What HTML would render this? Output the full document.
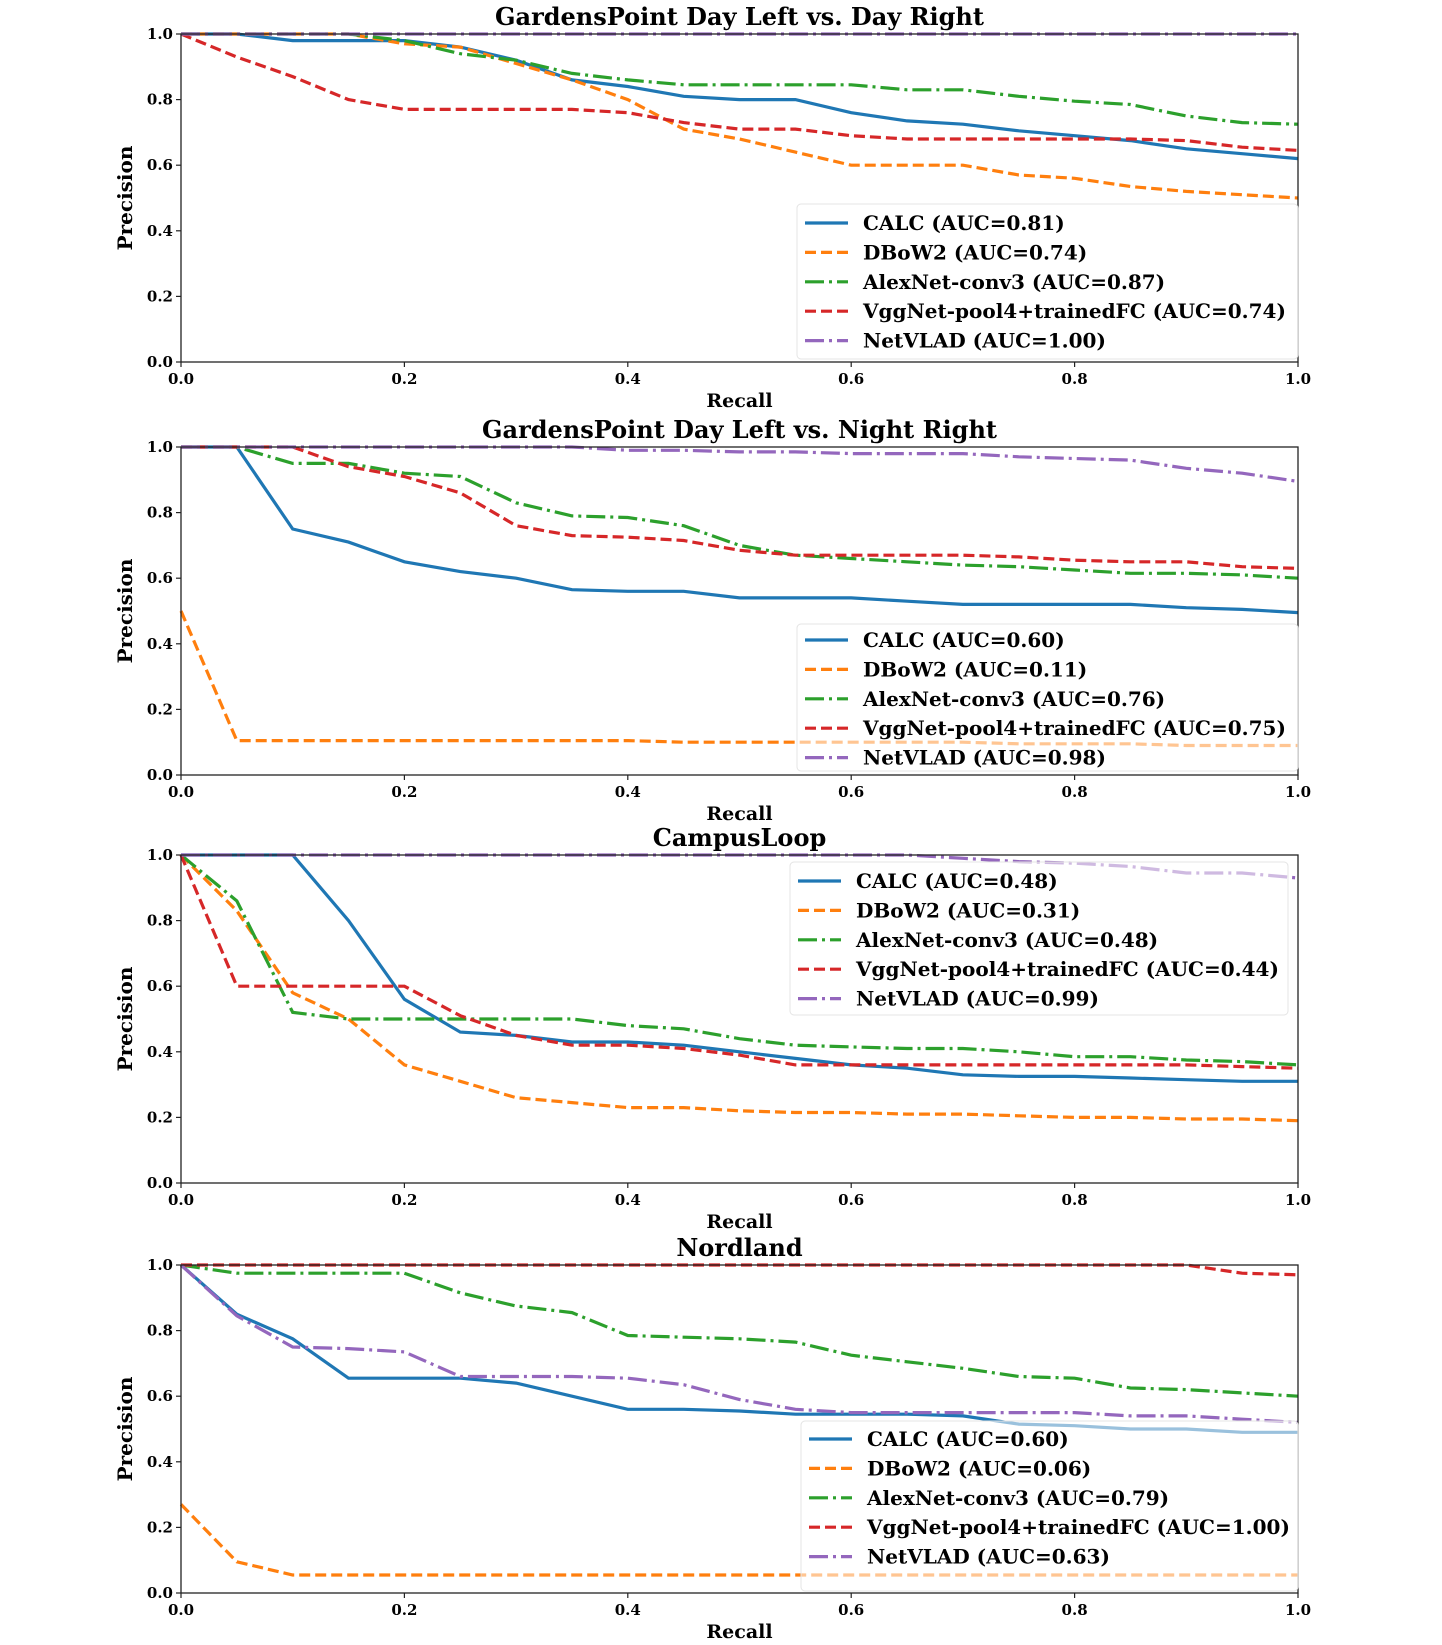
<!DOCTYPE html>
<html><head><meta charset="utf-8"><style>
body{margin:0;background:#fff}
svg{display:block}
text{font-family:"DejaVu Serif","Liberation Serif",serif;font-weight:bold;fill:#000}
</style></head><body>
<svg id="fig" width="1442" height="1645" xmlns="http://www.w3.org/2000/svg"></svg>
<script>
const recall = [0,0.05,0.1,0.15,0.2,0.25,0.3,0.35,0.4,0.45,0.5,0.55,0.6,0.65,0.7,0.75,0.8,0.85,0.9,0.95,1.0];
const xTicks = [0,0.2,0.4,0.6,0.8,1.0];
const yTicks = [0,0.2,0.4,0.6,0.8,1.0];
const seriesNames = ["CALC","DBoW2","AlexNet-conv3","VggNet-pool4+trainedFC","NetVLAD"];
const titles = ["GardensPoint Day Left vs. Day Right","GardensPoint Day Left vs. Night Right","CampusLoop","Nordland"];
const auc1 = ["0.81","0.74","0.87","0.74","1.00"];
const auc2 = ["0.60","0.11","0.76","0.75","0.98"];
const auc3 = ["0.48","0.31","0.48","0.44","0.99"];
const auc4 = ["0.60","0.06","0.79","1.00","0.63"];
// Panel 1
const p1Calc = [1,1,0.98,0.98,0.98,0.96,0.92,0.86,0.84,0.81,0.80,0.80,0.76,0.735,0.725,0.705,0.69,0.675,0.65,0.635,0.62];
const p1Dbow = [1,1,1,1,0.97,0.96,0.91,0.86,0.80,0.71,0.68,0.64,0.60,0.60,0.60,0.57,0.56,0.535,0.52,0.51,0.50];
const p1Alex = [1,1,1,1,0.98,0.94,0.92,0.88,0.86,0.845,0.845,0.845,0.845,0.83,0.83,0.81,0.795,0.785,0.75,0.73,0.725];
const p1Vgg  = [1,0.93,0.87,0.80,0.77,0.77,0.77,0.77,0.76,0.73,0.71,0.71,0.69,0.68,0.68,0.68,0.68,0.68,0.675,0.655,0.645];
const p1Net  = [1,1,1,1,1,1,1,1,1,1,1,1,1,1,1,1,1,1,1,1,1];
// Panel 2
const p2Calc = [1,1,0.75,0.71,0.65,0.62,0.60,0.565,0.56,0.56,0.54,0.54,0.54,0.53,0.52,0.52,0.52,0.52,0.51,0.505,0.495];
const p2Dbow = [0.5,0.105,0.105,0.105,0.105,0.105,0.105,0.105,0.105,0.1,0.1,0.1,0.1,0.1,0.1,0.095,0.095,0.095,0.09,0.09,0.09];
const p2Alex = [1,1,0.95,0.95,0.92,0.91,0.83,0.79,0.785,0.76,0.70,0.67,0.66,0.65,0.64,0.635,0.625,0.615,0.615,0.61,0.60];
const p2Vgg  = [1,1,1,0.94,0.91,0.86,0.76,0.73,0.725,0.715,0.685,0.67,0.67,0.67,0.67,0.665,0.655,0.65,0.65,0.635,0.63];
const p2Net  = [1,1,1,1,1,1,1,1,0.99,0.99,0.985,0.985,0.98,0.98,0.98,0.97,0.965,0.96,0.935,0.92,0.895];
// Panel 3
const p3Calc = [1,1,1,0.8,0.56,0.46,0.45,0.43,0.43,0.42,0.40,0.38,0.36,0.35,0.33,0.325,0.325,0.32,0.315,0.31,0.31];
const p3Dbow = [1,0.83,0.58,0.50,0.36,0.31,0.26,0.245,0.23,0.23,0.22,0.215,0.215,0.21,0.21,0.205,0.20,0.20,0.195,0.195,0.19];
const p3Alex = [1,0.86,0.52,0.50,0.50,0.50,0.50,0.50,0.48,0.47,0.44,0.42,0.415,0.41,0.41,0.40,0.385,0.385,0.375,0.37,0.36];
const p3Vgg  = [1,0.60,0.60,0.60,0.60,0.51,0.45,0.42,0.42,0.41,0.39,0.36,0.36,0.36,0.36,0.36,0.36,0.36,0.36,0.355,0.35];
const p3Net  = [1,1,1,1,1,1,1,1,1,1,1,1,1,1,0.99,0.98,0.975,0.965,0.945,0.945,0.93];
// Panel 4
const p4Calc = [1,0.85,0.775,0.655,0.655,0.655,0.64,0.60,0.56,0.56,0.555,0.545,0.545,0.545,0.54,0.515,0.51,0.50,0.50,0.49,0.49];
const p4Dbow = [0.27,0.095,0.055,0.055,0.055,0.055,0.055,0.055,0.055,0.055,0.055,0.055,0.055,0.055,0.055,0.055,0.055,0.055,0.055,0.055,0.055];
const p4Alex = [1,0.975,0.975,0.975,0.975,0.915,0.875,0.855,0.785,0.78,0.775,0.765,0.725,0.705,0.685,0.66,0.655,0.625,0.62,0.61,0.60];
const p4Vgg  = [1,1,1,1,1,1,1,1,1,1,1,1,1,1,1,1,1,1,1,0.975,0.97];
const p4Net  = [1,0.845,0.75,0.745,0.735,0.66,0.66,0.66,0.655,0.635,0.59,0.56,0.55,0.55,0.55,0.55,0.55,0.54,0.54,0.53,0.52];

const panelData = [[p1Calc,p1Dbow,p1Alex,p1Vgg,p1Net],[p2Calc,p2Dbow,p2Alex,p2Vgg,p2Net],[p3Calc,p3Dbow,p3Alex,p3Vgg,p3Net],[p4Calc,p4Dbow,p4Alex,p4Vgg,p4Net]];
const aucs = [auc1,auc2,auc3,auc4];
const colors = ["#1f77b4","#ff7f0e","#2ca02c","#d62728","#9467bd"];
const dashes = ["none","11,5","19,5,3,5","11,5","19,5,3,5"];
const panelTops = [34,447,855,1265];
const legendBoxes = [[797,204,501,155],[797,624,501,147],[790,862,498,153],[801,1421,497,170]];
const legendRow0 = [223,640,881,1439];
const L=181,R=1298,H=328;
const NS="http://www.w3.org/2000/svg";
const svg=document.getElementById('fig');
function mk(tag,attrs,parent){const e=document.createElementNS(NS,tag);for(const k in attrs)e.setAttribute(k,attrs[k]);(parent||svg).appendChild(e);return e;}

panelData.forEach((series,pi)=>{
  const top=panelTops[pi], bot=top+H;
  const xs=v=>L+v*(R-L);
  const ys=v=>bot-v*H;
  const g=mk('g',{});
  
  
  const t=mk('text',{x:(L+R)/2,y:top-9,'text-anchor':'middle','font-size':24},g);
  t.textContent=titles[pi];
  
  
  series.forEach((vals,si)=>{
    const pts=vals.map((v,i)=>xs(recall[i]).toFixed(1)+','+ys(v).toFixed(1)).join(' ');
    const pl=mk('polyline',{points:pts,fill:'none',stroke:colors[si],'stroke-width':3.2,'stroke-dasharray':dashes[si]},g);
    
    
  });
  const fr=mk('rect',{x:L,y:top,width:R-L,height:H,fill:'none',stroke:'#222','stroke-width':1.3},g);
  
  
  xTicks.forEach(v=>{
    mk('line',{x1:xs(v),x2:xs(v),y1:bot,y2:bot+5,stroke:'#222','stroke-width':1.2},g);
    const tl=mk('text',{x:xs(v),y:bot+22,'text-anchor':'middle','font-size':15},g);
    tl.textContent=v.toFixed(1);
    
    
  });
  yTicks.forEach(v=>{
    mk('line',{x1:L-5,x2:L,y1:ys(v),y2:ys(v),stroke:'#222','stroke-width':1.2},g);
    const tl=mk('text',{x:L-8,y:ys(v)+5,'text-anchor':'end','font-size':15},g);
    tl.textContent=v.toFixed(1);
    
    
  });
  const xl=mk('text',{x:(L+R)/2,y:bot+45,'text-anchor':'middle','font-size':19},g);
  xl.textContent='Recall';
  
  
  const yl=mk('text',{x:0,y:0,'text-anchor':'middle','font-size':20,transform:`translate(132,${top+H/2}) rotate(-90)`},g);
  yl.textContent='Precision';
  
  
  const lb=legendBoxes[pi];
  const lg=mk('g',{},g);
  
  
  mk('rect',{x:lb[0],y:lb[1],width:lb[2],height:lb[3],rx:4,fill:'rgba(255,255,255,0.55)',stroke:'#e4e4e4','stroke-width':1},lg);
  seriesNames.forEach((n,si)=>{
    const y=legendRow0[pi]+si*29.4;
    const hx=lb[0]+8;
    mk('line',{x1:hx,x2:hx+43,y1:y,y2:y,stroke:colors[si],'stroke-width':3.2,'stroke-dasharray':dashes[si]},lg);
    const et=mk('text',{x:hx+58,y:y+7,'font-size':20},lg);
    et.textContent=n+' (AUC='+aucs[pi][si]+')';
    
    
  });
});
</script>
</body></html>
